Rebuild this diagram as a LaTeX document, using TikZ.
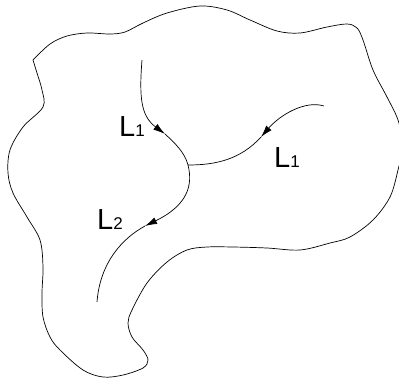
\documentclass[tikz,border=0pt]{standalone}
\usepackage{fontspec}
\setmainfont{Liberation Sans}
\usepackage{tikz}
\usetikzlibrary{arrows.meta}
\tikzset{
    curve/.style={line width=0.7pt},
    flow/.style={curve, -{Latex[length=12pt,width=7pt]}},
    lab/.style={font=\fontsize{29}{33}\selectfont, inner sep=0pt, anchor=base west}
}
\newcommand{\lidx}[1]{{\fontsize{17}{17}\selectfont #1}}

\begin{document}
\begin{tikzpicture}[x=1pt, y=-1pt]
    \useasboundingbox (0,0) rectangle (399,381);
    % region outline
    \begin{scope}
        \clip (0,0) rectangle (399,381);
        \draw [curve] plot [smooth, tension=0.55] coordinates {
            (33,60) (50,44) (67,36) (87,33) (110,34) (125,32) (143,23) (167,13) (200,6)
            (227,10) (250,20) (277,31) (300,33) (327,27) (347,24) (357,28) (363,40)
            (373,70) (387,97) (398,120) (403,145) (398,170) (390,197) (373,220) (350,237)
            (330,243) (300,250) (267,248) (233,247) (207,247) (187,250) (167,262)
            (147,283) (132,310) (128,323) (132,337) (143,350) (148,360) (143,368)
            (123,375) (103,377) (83,370) (60,350) (50,337) (43,317) (42,293) (43,267)
            (40,240) (27,217) (13,193) (8,173) (10,150) (23,127) (43,107) (42,90)
            (37,73) (33,60)};
    \end{scope}

    \coordinate (a) at (142,60);
    \coordinate (b) at (324,106);
    \coordinate (j) at (188,165);
    \coordinate (c) at (97,302);
    \coordinate (t1) at (165,134);
    \coordinate (t2) at (261,137);
    \coordinate (t3) at (145,226);

    \draw [flow] (a) .. controls (139,98) and (141,116) .. (t1);
    \draw [curve] (t1) .. controls (175,143) and (185,153) .. (j);
    \draw [flow] (b) .. controls (305,100) and (280,115) .. (t2);
    \draw [curve] (t2) .. controls (240,160) and (215,165) .. (j);
    \draw [flow] (j) .. controls (193,185) and (188,205) .. (t3);
    \draw [curve] (t3) .. controls (123,238) and (100,262) .. (c);

    \node [lab] (l1a) at (119,136) {L\lidx{1}};
    \node [lab] (l1b) at (274,167) {L\lidx{1}};
    \node [lab] (l2) at (97,229) {L\lidx{2}};
\end{tikzpicture}
\end{document}
